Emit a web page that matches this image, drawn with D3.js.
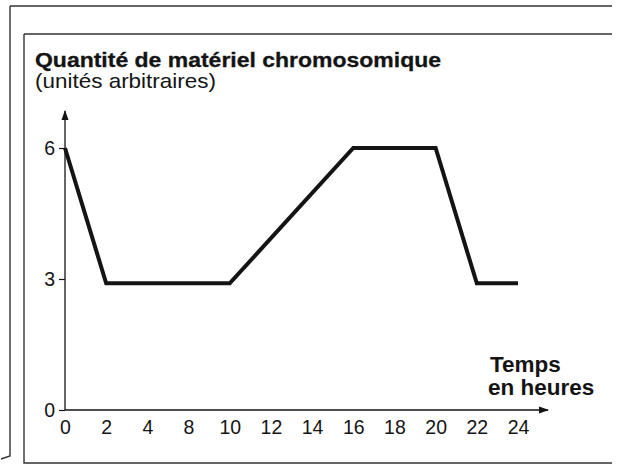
<!DOCTYPE html>
<html>
<head>
<meta charset="utf-8">
<script src="https://cdn.jsdelivr.net/npm/d3@7"></script>
<style>
    body { margin: 0; background: #fff; }
    svg { display: block; font-family: 'Liberation Sans', Arial, sans-serif; }
</style>
</head>
<body>
<svg id="chart" width="623" height="467"></svg>
<script>
// tick labels on the time axis (equal spacing, note: 6 is skipped)
const timeLabels = ['0', '2', '4', '8', '10', '12', '14', '16', '18', '20', '22', '24'];
// points of the curve (time label, quantity)
const curveTimes = ['0', '2', '10', '16', '20', '22', '24'];
const curveValues = [6, 2.9, 2.9, 6, 6, 2.9, 2.9];
const yTicks = [0, 3, 6];

const ink = '#141414';
const svg = d3.select('#chart');

// frame lines, like the scanned page
const frame = svg.append('g').attr('fill', 'none').attr('stroke', '#333').attr('stroke-width', 1.4);
frame.append('path').attr('d', 'M10,6H612');
frame.append('path').attr('d', 'M24,34H612');
frame.append('path').attr('d', 'M10,6V456L1,459');
frame.append('path').attr('d', 'M24,34V463H612');

// titles
svg.append('text')
    .attr('x', 35).attr('y', 67)
    .attr('font-size', 21).attr('font-weight', 'bold').attr('fill', ink)
    .attr('stroke', ink).attr('stroke-width', 0.3)
    .attr('textLength', 406).attr('lengthAdjust', 'spacingAndGlyphs')
    .text('Quantité de matériel chromosomique');
svg.append('text')
    .attr('x', 35).attr('y', 88)
    .attr('font-size', 21).attr('fill', ink)
    .attr('textLength', 181).attr('lengthAdjust', 'spacingAndGlyphs')
    .text('(unités arbitraires)');

const x = d3.scalePoint().domain(timeLabels).range([65, 518]);
const y = d3.scaleLinear().domain([0, 6]).range([410, 148]);

// axis lines with arrows
svg.append('defs').append('marker')
    .attr('id', 'arrow').attr('viewBox', '0 0 10 10')
    .attr('refX', 9).attr('refY', 5)
    .attr('markerWidth', 8).attr('markerHeight', 8)
    .attr('orient', 'auto')
    .append('path').attr('d', 'M0,1.5L10,5L0,8.5z').attr('fill', ink);

svg.append('line')
    .attr('x1', x('0')).attr('y1', y(0)).attr('x2', x('0')).attr('y2', 111)
    .attr('stroke', ink).attr('stroke-width', 1.3).attr('marker-end', 'url(#arrow)');
svg.append('line')
    .attr('x1', x('0')).attr('y1', y(0)).attr('x2', 548).attr('y2', y(0))
    .attr('stroke', ink).attr('stroke-width', 1.3).attr('marker-end', 'url(#arrow)');

// y axis ticks
const yAxis = svg.append('g')
    .attr('transform', `translate(${x('0')},0)`)
    .call(d3.axisLeft(y).tickValues(yTicks).tickSize(6).tickPadding(4).tickFormat(d3.format('d')));
yAxis.select('.domain').remove();
yAxis.selectAll('line').attr('stroke', ink).attr('stroke-width', 1.2);
yAxis.selectAll('text').attr('font-size', 19.5).attr('fill', ink).attr('font-family', null);

// x axis labels
const xAxis = svg.append('g')
    .attr('transform', `translate(0,${y(0)})`)
    .call(d3.axisBottom(x).tickSize(0).tickPadding(10));
xAxis.select('.domain').remove();
xAxis.selectAll('text').attr('font-size', 19.5).attr('fill', ink).attr('font-family', null);

// axis title
const xt = svg.append('text')
    .attr('font-size', 22.5).attr('font-weight', 'bold').attr('fill', ink);
xt.append('tspan').attr('x', 490).attr('y', 372).text('Temps');
xt.append('tspan').attr('x', 488).attr('y', 395).text('en heures');

// curve
const pts = curveTimes.map((t, i) => [x(t), y(curveValues[i])]);
svg.append('path')
    .datum(pts)
    .attr('fill', 'none')
    .attr('stroke', ink)
    .attr('stroke-width', 4)
    .attr('stroke-linejoin', 'miter')
    .attr('d', d3.line());
</script>
</body>
</html>
